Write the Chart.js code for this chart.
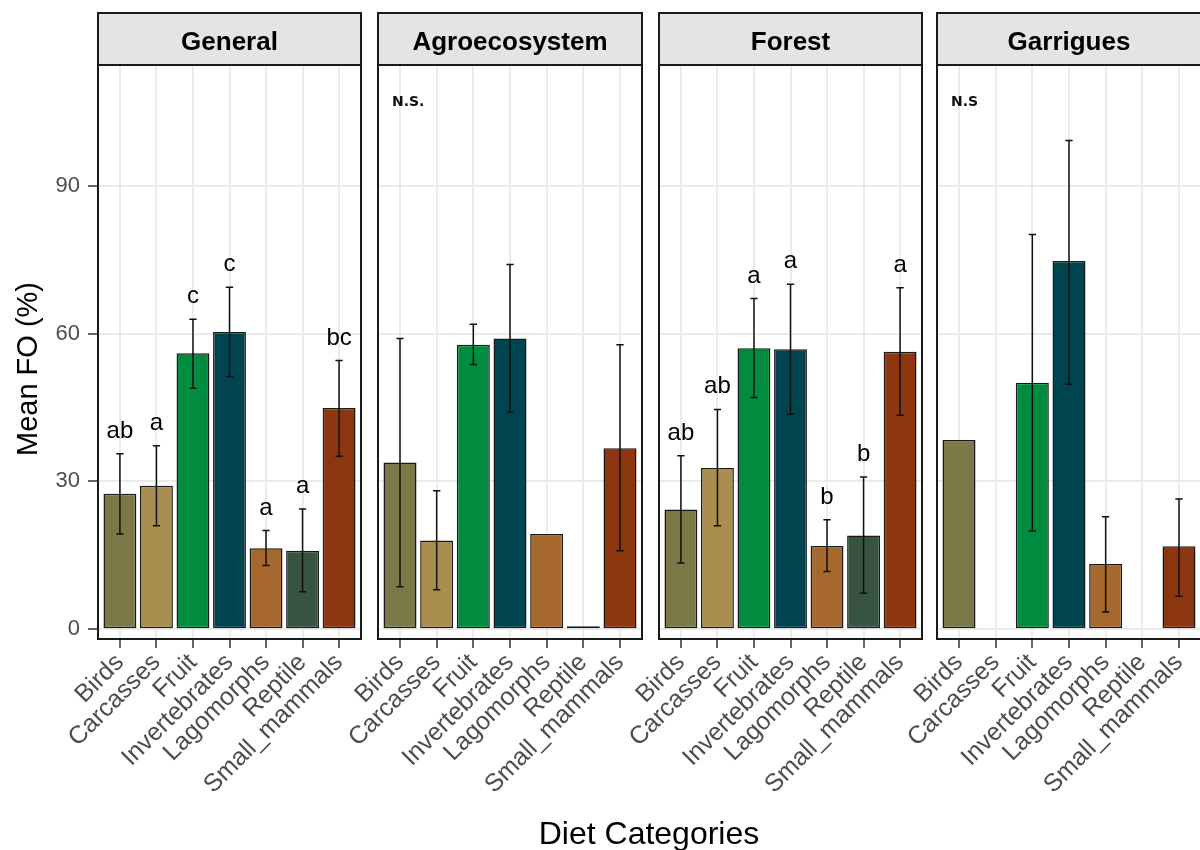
<!DOCTYPE html>
<html>
<head>
<meta charset="utf-8">
<title>Mean FO by diet category</title>
<script src="https://cdn.jsdelivr.net/npm/chart.js@4.4.1/dist/chart.umd.min.js"></script>
<style>
  html, body { margin: 0; padding: 0; background: #fff; overflow: hidden; width: 1200px; height: 850px; }
  canvas { position: absolute; top: 0; }
  #xtitle {
    position: absolute; left: 0; width: 1298px; top: 815px;
    text-align: center; line-height: 32px; color: #000;
    font: 32px 'Liberation Sans', Arial, sans-serif;
  }
</style>
</head>
<body>
<canvas id="p0"></canvas>
<canvas id="p1"></canvas>
<canvas id="p2"></canvas>
<canvas id="p3"></canvas>
<div id="xtitle">Diet Categories</div>
<script>
// ---- data ----
const categories = ['Birds', 'Carcasses', 'Fruit', 'Invertebrates', 'Lagomorphs', 'Reptile', 'Small_mammals'];
const habitats = ['General', 'Agroecosystem', 'Forest', 'Garrigues'];
const yTicks = [0, 30, 60, 90];

const generalMean = [27.5, 29.1, 56.0, 60.3, 16.4, 15.9, 44.9];
const generalLow = [19.3, 21.0, 48.9, 51.3, 12.9, 7.6, 35.1];
const generalHigh = [35.6, 37.2, 62.9, 69.4, 20.0, 24.4, 54.5];
const generalLetters = ['ab', 'a', 'c', 'c', 'a', 'a', 'bc'];

const agroMean = [33.8, 18.0, 57.7, 59.0, 19.3, 0.6, 36.7];
const agroLow = [8.6, 8.0, 53.7, 44.0, null, null, 15.9];
const agroHigh = [59.0, 28.1, 61.9, 74.0, null, null, 57.7];

const forestMean = [24.3, 32.7, 57.0, 56.8, 16.9, 19.0, 56.3];
const forestLow = [13.4, 21.0, 47.0, 43.6, 11.7, 7.3, 43.4];
const forestHigh = [35.2, 44.6, 67.1, 70.0, 22.2, 30.9, 69.3];
const forestLetters = ['ab', 'ab', 'a', 'a', 'b', 'b', 'a'];

const garrMean = [38.4, null, 50.0, 74.7, 13.2, null, 16.8];
const garrLow = [null, null, 19.9, 49.7, 3.5, null, 6.7];
const garrHigh = [null, null, 80.1, 99.2, 22.8, null, 26.4];

const panelNotes = [null, 'N.S.', null, 'N.S'];
const yTitle = 'Mean FO (%)';

// ---- styling / layout ----
const barColors = ['#7B7947', '#AA8E50', '#008C3E', '#004450', '#A6682C', '#365440', '#8C3610'];
const FONT = "'Liberation Sans', Arial, sans-serif";
const panelLeft = [98, 378, 659, 937];
const panelRight = [361, 642, 922, 1201];
const PANEL_TOP = 65, PANEL_BOTTOM = 639, STRIP_TOP = 13, H = 850;

Chart.defaults.font.family = FONT;

/**
 * Draws error bars, letters, the facet strip, the panel frame
 * and (first panel only) the y axis title.
 */
const facetDecor = {
  id: 'facetDecor',
  afterDatasetsDraw(chart, args, opts) {
    const { ctx, scales: { x, y } } = chart;
    const half = x.getPixelForValue(1.1) - x.getPixelForValue(1);
    ctx.save();
    ctx.strokeStyle = '#111';
    ctx.lineWidth = 1.5;
    opts.low.forEach((lo, i) => {
      const hi = opts.high[i];
      if (lo == null || hi == null) return;
      const px = x.getPixelForValue(i + 1);
      const y1 = y.getPixelForValue(lo), y2 = y.getPixelForValue(hi);
      ctx.beginPath();
      ctx.moveTo(px, y1); ctx.lineTo(px, y2);
      ctx.moveTo(px - half, y1); ctx.lineTo(px + half, y1);
      ctx.moveTo(px - half, y2); ctx.lineTo(px + half, y2);
      ctx.stroke();
    });
    if (opts.letters) {
      ctx.fillStyle = '#000';
      ctx.font = `24px ${FONT}`;
      ctx.textAlign = 'center';
      ctx.textBaseline = 'alphabetic';
      opts.letters.forEach((t, i) => {
        const hi = opts.high[i];
        if (!t || hi == null) return;
        ctx.fillText(t, x.getPixelForValue(i + 1), y.getPixelForValue(hi) - 16);
      });
    }
    if (opts.note) {
      ctx.fillStyle = '#111';
      ctx.font = `bold 14px 'DejaVu Sans', sans-serif`;
      ctx.textAlign = 'left';
      ctx.fillText(opts.note, x.getPixelForValue(1) - 8, 106);
    }
    ctx.restore();
  },
  afterDraw(chart, args, opts) {
    const { ctx, chartArea: a } = chart;
    ctx.save();
    ctx.lineWidth = 2;
    ctx.strokeStyle = '#1a1a1a';
    // strip
    ctx.fillStyle = '#e4e4e4';
    ctx.fillRect(a.left, STRIP_TOP, a.right - a.left, a.top - STRIP_TOP);
    ctx.strokeRect(a.left, STRIP_TOP, a.right - a.left, a.top - STRIP_TOP);
    ctx.fillStyle = '#000';
    ctx.font = `bold 26px ${FONT}`;
    ctx.textAlign = 'center';
    ctx.textBaseline = 'alphabetic';
    ctx.fillText(opts.title, (a.left + a.right) / 2, 50);
    // panel frame
    ctx.strokeRect(a.left, a.top, a.right - a.left, a.bottom - a.top);
    // y title
    if (opts.yTitle) {
      ctx.translate(37, 369);
      ctx.rotate(-Math.PI / 2);
      ctx.font = `29px ${FONT}`;
      ctx.fillText(opts.yTitle, 0, 0);
    }
    ctx.restore();
  }
};

function makePanel(idx, means, lows, highs, letters) {
  const first = idx === 0;
  const padLeft = first ? 0 : 60;
  const canvasLeft = panelLeft[idx] - (first ? 98 : 60);
  const canvas = document.getElementById('p' + idx);
  canvas.width = panelRight[idx] - canvasLeft + 10;
  canvas.height = H;
  canvas.style.left = canvasLeft + 'px';

  return new Chart(canvas, {
    type: 'bar',
    data: {
      datasets: [{
        data: means.map((v, k) => ({ x: k + 1, y: v })),
        backgroundColor: barColors,
        borderColor: '#1a1a1a',
        borderWidth: 1.5,
        borderSkipped: false,
        barPercentage: 0.9,
        categoryPercentage: 1.0
      }]
    },
    options: {
      responsive: false,
      devicePixelRatio: 1,
      animation: false,
      events: [],
      layout: { padding: { top: PANEL_TOP, left: padLeft, right: 10, bottom: 0 } },
      plugins: {
        legend: { display: false },
        tooltip: { enabled: false },
        facetDecor: {
          title: habitats[idx], low: lows, high: highs, letters: letters,
          note: panelNotes[idx], yTitle: first ? yTitle : null
        }
      },
      scales: {
        x: {
          type: 'linear',
          min: 0.4,
          max: 7.6,
          offset: false,
          afterBuildTicks: s => { s.ticks = categories.map((c, k) => ({ value: k + 1 })); },
          afterFit: s => { s.height = H - PANEL_BOTTOM; },
          border: { display: false },
          grid: { offset: false, color: '#ebebeb', lineWidth: 2, tickLength: 9, tickColor: '#333', tickWidth: 1.5 },
          ticks: {
            autoSkip: false, maxRotation: 45, minRotation: 45, padding: 0,
            color: '#4d4d4d', font: { size: 25 },
            callback: v => categories[v - 1]
          }
        },
        y: {
          min: -2,
          max: 114.5,
          afterBuildTicks: s => { s.ticks = yTicks.map(v => ({ value: v })); },
          afterFit: s => { s.width = first ? 98 : 0; },
          border: { display: false },
          grid: {
            color: '#ebebeb', lineWidth: 2, drawTicks: first,
            tickLength: 10, tickColor: '#333', tickWidth: 1.5
          },
          ticks: { display: first, padding: 8, color: '#4d4d4d', font: { size: 22 } }
        }
      }
    },
    plugins: [facetDecor]
  });
}

makePanel(0, generalMean, generalLow, generalHigh, generalLetters);
makePanel(1, agroMean, agroLow, agroHigh, null);
makePanel(2, forestMean, forestLow, forestHigh, forestLetters);
makePanel(3, garrMean, garrLow, garrHigh, null);
</script>
</body>
</html>
